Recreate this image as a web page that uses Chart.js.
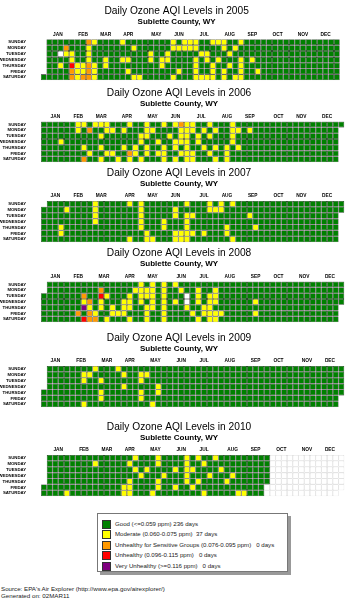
<!DOCTYPE html>
<html>
<head>
<meta charset="utf-8">
<script src="https://cdn.jsdelivr.net/npm/chart.js@4.4.0/dist/chart.umd.min.js"></script>
<style>
  body { margin: 0; background: #fff; width: 363px; height: 600px; position: relative; overflow: hidden;
         font-family: "Liberation Sans", Arial, sans-serif; }
  .panel { position: absolute; left: 0; width: 363px; height: 84px; }
  #legend { position: absolute; left: 97px; top: 513px; width: 191px; height: 59px; border: 1px solid #777;
            box-shadow: 3px 3px 0 #999; background: #fff; padding-top: 5px; box-sizing: border-box; }
  #legend div { height: 10.4px; line-height: 10.4px; font-size: 6.1px; color: #222; white-space: nowrap; position: relative; padding-left: 17px; }
  #legend span { position: absolute; left: 4px; top: 1px; width: 7px; height: 7px; border: 1px solid #333; }
  #source { position: absolute; left: 1px; top: 585px; font-size: 6.2px; line-height: 7px; color: #222; }
</style>
</head>
<body>
<div class="panel" style="top:0px"><canvas id="c2005"></canvas></div>
<div class="panel" style="top:82px"><canvas id="c2006"></canvas></div>
<div class="panel" style="top:162px"><canvas id="c2007"></canvas></div>
<div class="panel" style="top:242px"><canvas id="c2008"></canvas></div>
<div class="panel" style="top:327px"><canvas id="c2009"></canvas></div>
<div class="panel" style="top:416px"><canvas id="c2010"></canvas></div>

<div id="legend">
  <div><span style="background:#008000"></span>Good (&lt;=0.059 ppm) 236 days</div>
  <div><span style="background:#ffff00"></span>Moderate (0.060-0.075 ppm)&nbsp; 37 days</div>
  <div><span style="background:#ff9900"></span>Unhealthy for Sensitive Groups (0.076-0.095 ppm)&nbsp;&nbsp; 0 days</div>
  <div><span style="background:#ff0000"></span>Unhealthy (0.096-0.115 ppm)&nbsp;&nbsp; 0 days</div>
  <div><span style="background:#800080"></span>Very Unhealthy (&gt;=0.116 ppm)&nbsp;&nbsp; 0 days</div>
</div>
<div id="source">Source: EPA's Air Explorer (http://www.epa.gov/airexplorer/)<br>Generated on: 02MAR11</div>

<script>
// rows = Sunday..Saturday, one character per week column
// g good, y moderate, o USG, r unhealthy, p very unhealthy, w missing, - no data yet, . outside the year
const days = ["SUNDAY", "MONDAY", "TUESDAY", "WEDNESDAY", "THURSDAY", "FRIDAY", "SATURDAY"];
const months = ["JAN", "FEB", "MAR", "APR", "MAY", "JUN", "JUL", "AUG", "SEP", "OCT", "NOV", "DEC"];

const aqi2005 = [
  ".gggggggoy ggggyggggg gggygyyygg yyyggygggg gggggggggg ggg",
  ".gggogggyg ggggggyggg gggyyyyygg ggygyggggg gggggggggg ggg",
  ".ggwyyggyg gggggggggy ggygggggyy gggygggggg gggggggggg ggg",
  ".ggggyggyg gyggyygggy gyyggggygy gygggygygg gggggggggg ggg",
  ".ggygryyoy gygggggggg gygggggygg yggygygggg gggggggggg ggg",
  ".ggggoyyoy gggggygggg ggggyggygg ygyggyggyg gggggggggg ggg",
  "gggggoyooy ggggggyygg gggygggyyy ygygyygggg gggggggggg ggg"
];
const aqi2006 = [
  "ggggggyygy yygggyggyg gygyoyyggy gggygggggg gggggggggg ggg",
  "ggggggygog gyygygggyy ggggyyygyg yggyygyggg gggggggggg gg.",
  "gggggggggg yggggggyyg ggygyygygy gggygggggg gggggggggg gg.",
  "gggygggggg gggggggygg yggyyygygg gggygggggg gggggggggg gg.",
  "gggggggygg ygggygygyg gygygyggyg ygygyggggg gggggggggg gg.",
  "ggggggggyg gyyggoygyg yyggyyyggy ggyggggggg gggggggggg gg.",
  "gggggggogg yggygygygg gygygyyggg ygyggggggg gggggggggg gg."
];
const aqi2007 = [
  ".ggggggggy gggggygygg gggggygggy gygygggggg gggggggggg ggg",
  "ggggyggggy gggggggygg gggygggggy yygggggggg gggggggggg ggg",
  "gggggggggy gggggggygg gggygyyggg ggggggyggg gggggggggg gg.",
  "gggggggggy gggggggygg gygggygggg gggggggggg gggggggggg gg.",
  "gggygggggg gggggggygg gygggygggg ggyggggygg gggggggggg gg.",
  "gggygggggg ggggggggyg gggyyyygyg ggyggggggg gggggggggg gg.",
  "gggggggggg gggggyggyy gggyyygggg gggygggggg gggggggggg gg."
];
const aqi2008 = [
  ".ggggggggg gggggggygy gygygggggg gggggggggg gggggggggg ggg",
  ".ggggggggg ogggggyyyy gyggyggygg yggggggggg gggggggggg ggg",
  "gggggggogg rygggygyyy gygggwgygy yggggggggg gggggggggg ggg",
  "gggggggyog ygggyygygy gygygwgygy yggggggygg gggggggggg ggg",
  "gggggggpyg ygygyyggyy gygggyggyy gggggggggg gggggggggg gg.",
  "ggggggogoy ggyyygggyg gyggggygyy yygggggygg gggggggggg gg.",
  "gggggggroo gygggyggyg gygggggygy yggggggggg gggggggggg gg."
];
const aqi2009 = [
  ".ggggggggy gggygggggg gggggggggg gggggggggg gggggggggg ggg",
  ".ggggggyyg ggggyggyyg gggggggggg gggggggggg gggggggggg ggg",
  ".ggggggygg yggggggygg gggggggggg gggggggggg gggggggggg ggg",
  ".ggggggggg ggggyggggg yggggggggg gggggggggg gggggggggg ggg",
  "gggggggggg yggggggygg yggggggggg gggggggggg gggggggggg ggg",
  "gggggggggg yggggggygg gggggggggg gggggggggg gggggggggg gg.",
  "gggggggygg gggggggggy gggggggggg gggggggggg gggggggggg gg."
];
const aqi2010 = [
  ".ggggggggg ggggggyggg yggggygygg yggggggggg ---------- ---",
  ".ggggggggy gggggygggg yggggyggyg gggggggggg ---------- ---",
  ".ggggggggg ggggggygyg gggygyyggg gygggggggg ---------- ---",
  ".ggggggggg gggggggygg gygggygggy gggygggggg ---------- ---",
  ".ggggggggg gggggygggg yggggygygg ggyggggggg ---------- ---",
  "gggggggggg ggggyygggg yggyggyggg ggggggggg- ---------- ---",
  "ggggyggggg ggggyygggy ggggggggyg ggggyyggg- ---------- --."
];

const colors = { g: "#008000", y: "#ffff00", o: "#ff9900", r: "#ff0000", p: "#800080", w: "#ffffff", "-": "#ffffff" };

// week column of the middle of each month, for the month labels
function monthTicks(year) {
  const jan1 = new Date(year, 0, 1).getDay();
  const doy = (m, d) => Math.round((Date.UTC(year, m, d) - Date.UTC(year, 0, 1)) / 864e5);
  return months.map((m, i) => (Math.floor((doy(i, 1) + jan1) / 7) + Math.floor((doy(i + 1, 0) + jan1) / 7)) / 2);
}

function drawYear(year, rows, top, left, colW) {
  const cells = [];
  rows.forEach((row, d) => {
    row.replace(/ /g, "").split("").forEach((v, w) => {
      if (v !== ".") cells.push({ x: w, y: [d, d + 1], v: v });
    });
  });
  const ticksX = monthTicks(year);
  const ctx = document.getElementById("c" + year).getContext("2d");
  new Chart(ctx, {
    type: "bar",
    data: {
      datasets: [{
        label: "AQI " + year,
        data: cells,
        backgroundColor: c => colors[c.raw.v],
        borderColor: c => c.raw.v === "-" ? "#c4c4c4" : "#000",
        borderWidth: 0.55,
        borderSkipped: false,
        inflateAmount: 0,
        grouped: false,
        barPercentage: 1,
        categoryPercentage: 1
      }]
    },
    options: {
      animation: false,
      responsive: true,
      maintainAspectRatio: false,
      events: [],
      layout: { padding: { left: left - 27.3, right: 363 - left - 53 * colW, top: 0, bottom: 84 - top - 43.4 } },
      plugins: {
        legend: { display: false },
        tooltip: { enabled: false },
        title: {
          display: true,
          text: "Daily Ozone AQI Levels in " + year,
          color: "#000",
          font: { family: "Liberation Sans", size: 10.2, weight: "normal", lineHeight: 1.2 },
          padding: { top: 4.9, bottom: 0 }
        },
        subtitle: {
          display: true,
          text: "Sublette County, WY",
          color: "#000",
          font: { family: "Liberation Sans", size: 8, weight: "bold", lineHeight: 1.2 },
          padding: { top: 0, bottom: 0 }
        }
      },
      scales: {
        x: {
          type: "linear",
          position: "top",
          min: -0.5,
          max: 52.5,
          grid: { display: false, drawTicks: false },
          border: { display: false },
          afterBuildTicks: s => { s.ticks = ticksX.map(v => ({ value: v })); },
          afterFit: s => { s.height = top - 26.74; },
          ticks: {
            autoSkip: false, maxRotation: 0, padding: 2, color: "#000",
            font: { family: "Liberation Sans", size: 4.8, weight: "bold" },
            callback: (v, i) => months[i]
          }
        },
        y: {
          type: "linear",
          reverse: true,
          min: 0,
          max: 7,
          grid: { display: false, drawTicks: false },
          border: { display: false },
          afterBuildTicks: s => { s.ticks = days.map((d, i) => ({ value: i + 0.5 })); },
          afterFit: s => { s.width = 27.3; },
          ticks: {
            autoSkip: false, padding: 1.2, color: "#000",
            font: { family: "Liberation Sans", size: 4.3, weight: "bold" },
            callback: (v, i) => days[i]
          }
        }
      }
    }
  });
}

drawYear(2005, aqi2005, 39.3, 27.3, 6.15);
drawYear(2006, aqi2006, 39.6, 27.3, 6.24);
drawYear(2007, aqi2007, 38.9, 27.3, 6.24);
drawYear(2008, aqi2008, 39.6, 27.3, 6.24);
drawYear(2009, aqi2009, 38.9, 27.3, 6.24);
drawYear(2010, aqi2010, 38.9, 27.3, 6.24);
</script>
</body>
</html>
